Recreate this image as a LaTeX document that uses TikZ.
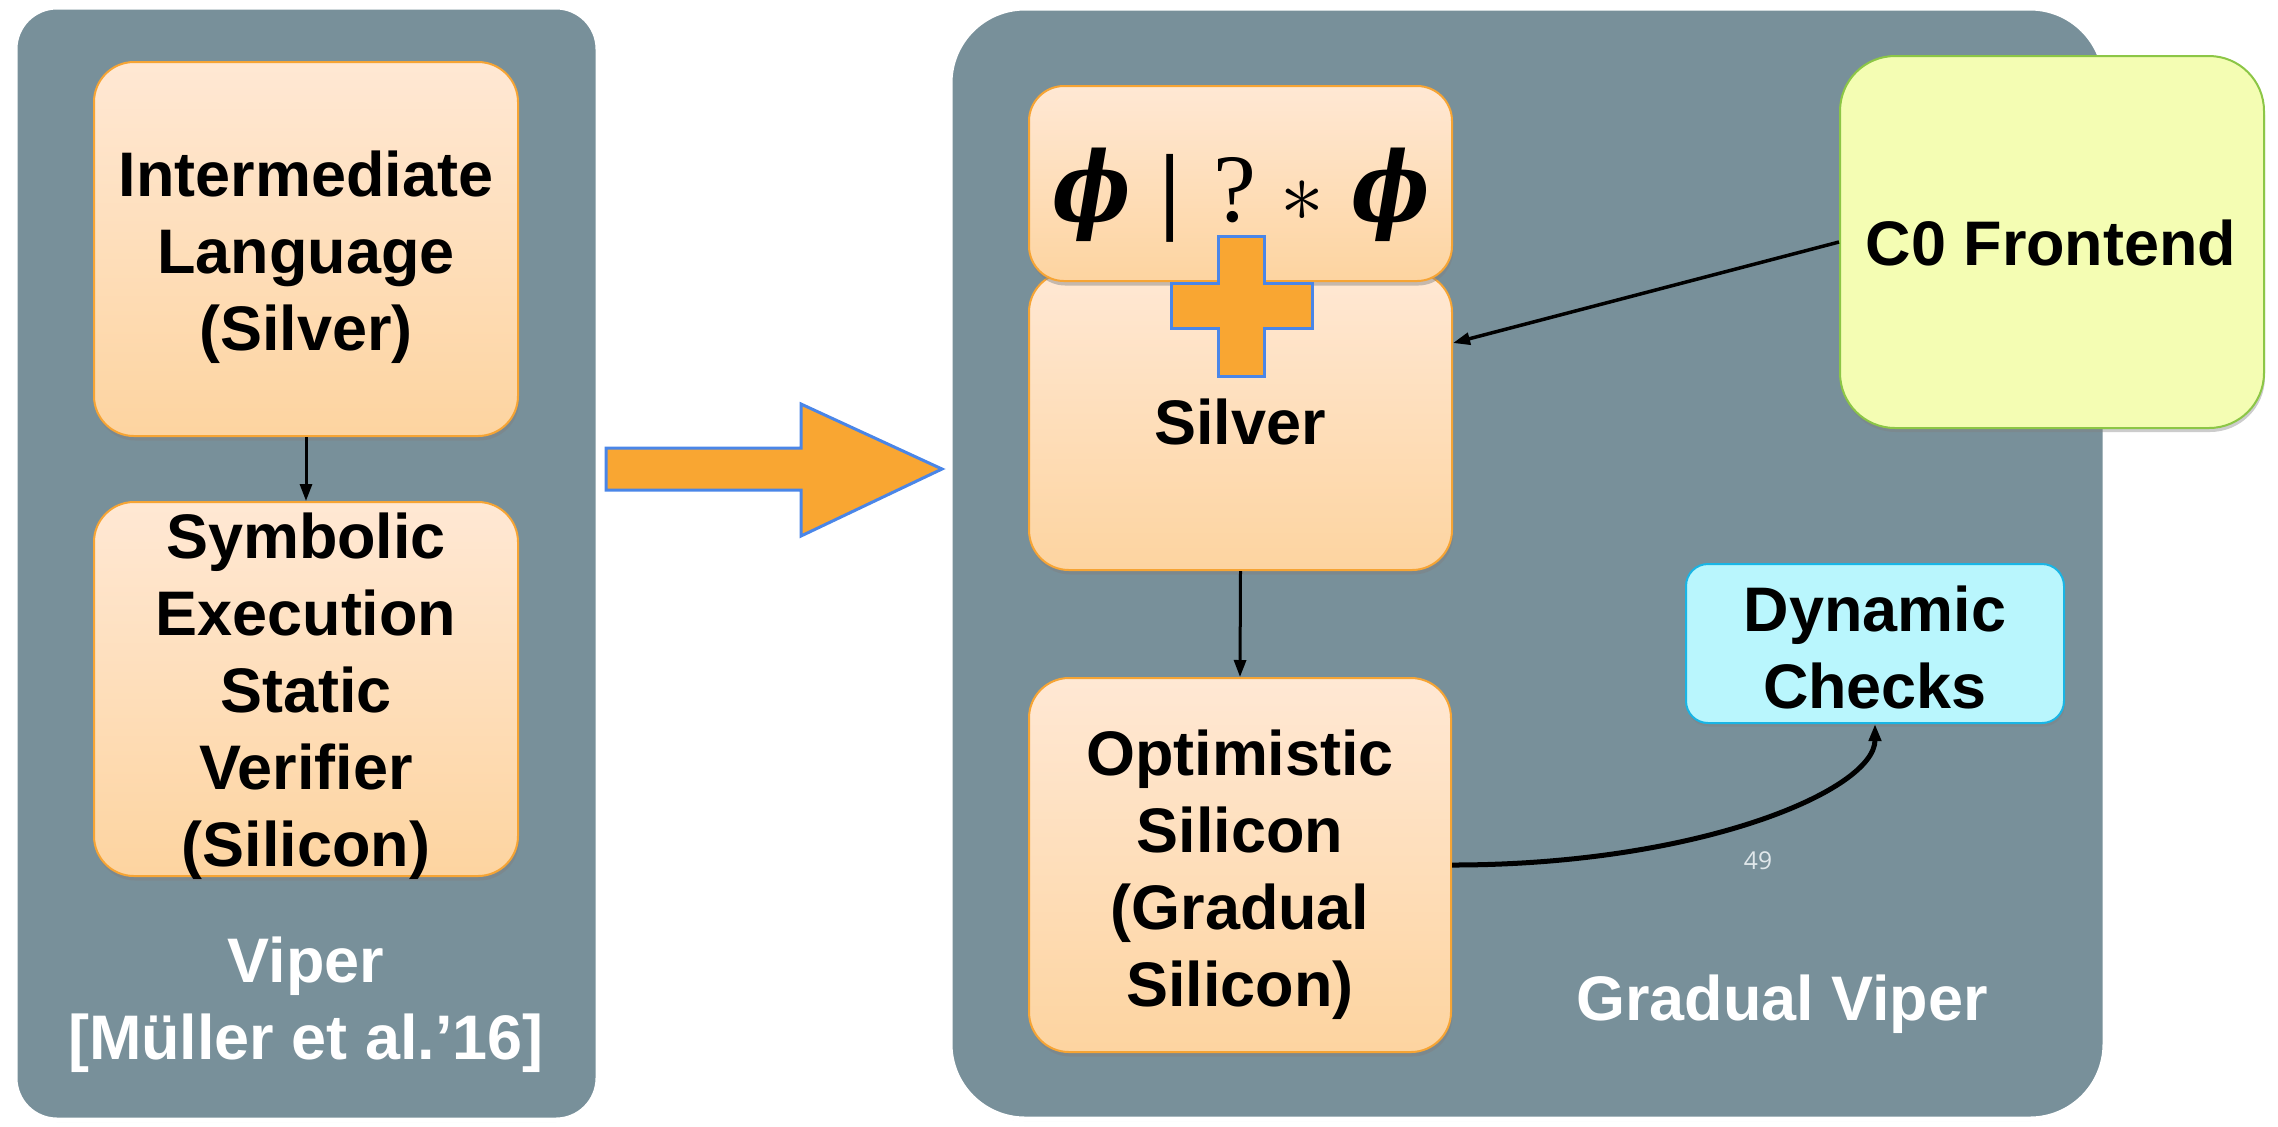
\documentclass[tikz,border=0pt]{standalone}
\usepackage{fontspec}
\setmainfont{Liberation Sans}
\newfontfamily\phifont{Liberation Serif}
\newfontfamily\phiglyph{DejaVu Serif}
\newfontfamily\pgnumfont{Open Sans}
\usetikzlibrary{arrows.meta,shadows,fit,calc}
\definecolor{panelgray}{RGB}{120,144,154}
\definecolor{boxorange}{RGB}{246,164,52}
\definecolor{peachtop}{RGB}{255,232,212}
\definecolor{peachbot}{RGB}{253,212,160}
\definecolor{bigorange}{RGB}{249,166,50}
\definecolor{bigblue}{RGB}{74,134,232}
\definecolor{dynfill}{RGB}{185,246,253}
\definecolor{dynborder}{RGB}{25,181,229}
\definecolor{cfill}{RGB}{244,253,179}
\definecolor{cborder}{RGB}{140,198,70}
\definecolor{pgnum}{RGB}{225,232,235}
\newcommand{\phisym}{\scalebox{0.86}[1.0]{\phiglyph\bfseries\itshape ϕ}}
\begin{document}
\begin{tikzpicture}[x=0.01cm,y=-0.01cm,
  panel/.style={fill=panelgray, draw=white, line width=0.05cm, inner sep=0pt,
    drop shadow={opacity=0.18, shadow xshift=0cm, shadow yshift=-0.02cm}},
  obox/.style={draw=boxorange, line width=0.02cm, top color=peachtop, bottom color=peachbot,
    rounded corners=0.4cm, inner sep=0pt,
    drop shadow={opacity=0.45, shadow xshift=0.012cm, shadow yshift=-0.045cm}},
  lbl/.style={font=\bfseries\fontsize{17.9}{21.9}\selectfont, align=center, inner sep=0pt},
  wlbl/.style={lbl, text=white},
  conn/.style={-{Triangle[length=0.17cm,width=0.12cm]}, line width=0.03cm, draw=black}]
\useasboundingbox (0,0) rectangle (2278,1126);
\fill[white] (0,0) rectangle (2278,1126);

% panels
\node[panel, rounded corners=0.42cm, fit={(15,7)(598,1120)}] (viper) {};
\node[panel, rounded corners=0.75cm, fit={(950,8)(2105,1119)}] (gviper) {};

% big arrow
\draw[fill=bigorange, draw=bigblue, line width=0.03cm, line join=miter]
  (606,448) -- (801,448) -- (801,404) -- (942,469) -- (801,536) -- (801,490) -- (606,490) -- cycle;

% left boxes
\node[obox, fit={(94,62)(518,436)}] (il) {};
\node[obox, fit={(94,502)(518,876)}] (se) {};
\node[lbl, anchor=north] (iltxt) at (306,150) {Intermediate\\Language\\(Silver)};
\node[lbl, anchor=north] (setxt) at (306,512) {Symbolic\\Execution\\Static\\Verifier\\(Silicon)};
\node[wlbl, anchor=north] (vipertxt) at (306,936) {Viper\\{}[Müller et al.’16]};

% right boxes
\node[obox, fit={(1029,272)(1452,570)}] (silver) {};
\node[obox, rounded corners=0.35cm, fit={(1029,86)(1452,281)}] (phi) {};
\node[obox, fit={(1029,678)(1451,1052)}] (opt) {};
\node[draw=dynborder, line width=0.02cm, fill=dynfill, rounded corners=0.22cm, inner sep=0pt,
  drop shadow={opacity=0.4, shadow xshift=0.01cm, shadow yshift=-0.035cm},
  fit={(1686,564)(2064,723)}] (dyn) {};
\node[draw=cborder, line width=0.02cm, fill=cfill, rounded corners=0.55cm, inner sep=0pt,
  drop shadow={opacity=0.4, shadow xshift=0.01cm, shadow yshift=-0.04cm},
  fit={(1840,56)(2264,428)}] (c0) {};

% plus sign
\draw[fill=bigorange, draw=bigblue, line width=0.03cm, line join=miter]
  (1218,236) -- (1264,236) -- (1264,283) -- (1312,283) -- (1312,328) -- (1264,328)
  -- (1264,376) -- (1218,376) -- (1218,328) -- (1171,328) -- (1171,283) -- (1218,283) -- cycle;

% texts right
\node[inner sep=0pt, anchor=base, font=\fontsize{27.5}{30}\selectfont] (phitxt) at (1241,221)
  {\phisym\hspace{0.3em}{\phifont\bfseries |}\hspace{0.33em}{\phifont ?}\hspace{0.25em}$*$\hspace{0.28em}\phisym};
\node[lbl, anchor=base] (silvertxt) at (1240,444) {Silver};
\node[lbl, anchor=north] (opttxt) at (1240,729) {Optimistic\\Silicon\\(Gradual\\Silicon)};
\node[lbl, anchor=north] (dyntxt) at (1875,585) {Dynamic\\Checks};
\node[lbl, anchor=base] (c0txt) at (2051,265) {C0 Frontend};
\node[wlbl, anchor=base] (gvtxt) at (1782,1020) {Gradual Viper};
\node[inner sep=0pt, anchor=base, text=pgnum, font=\pgnumfont\fontsize{7}{8}\selectfont] (pg) at (1758,869) {49};

% connectors
\draw[conn] (il.south) -- (se.north);
\draw[conn] (silver.south) -- (opt.north);
\draw[conn, line width=0.035cm] (c0.west) -- ($(silver.north east)!0.24!(silver.south east)$);
\draw[conn, line width=0.05cm] (opt.east) .. controls (1700,865) and (1875,790) .. (dyn.south);
\end{tikzpicture}
\end{document}
